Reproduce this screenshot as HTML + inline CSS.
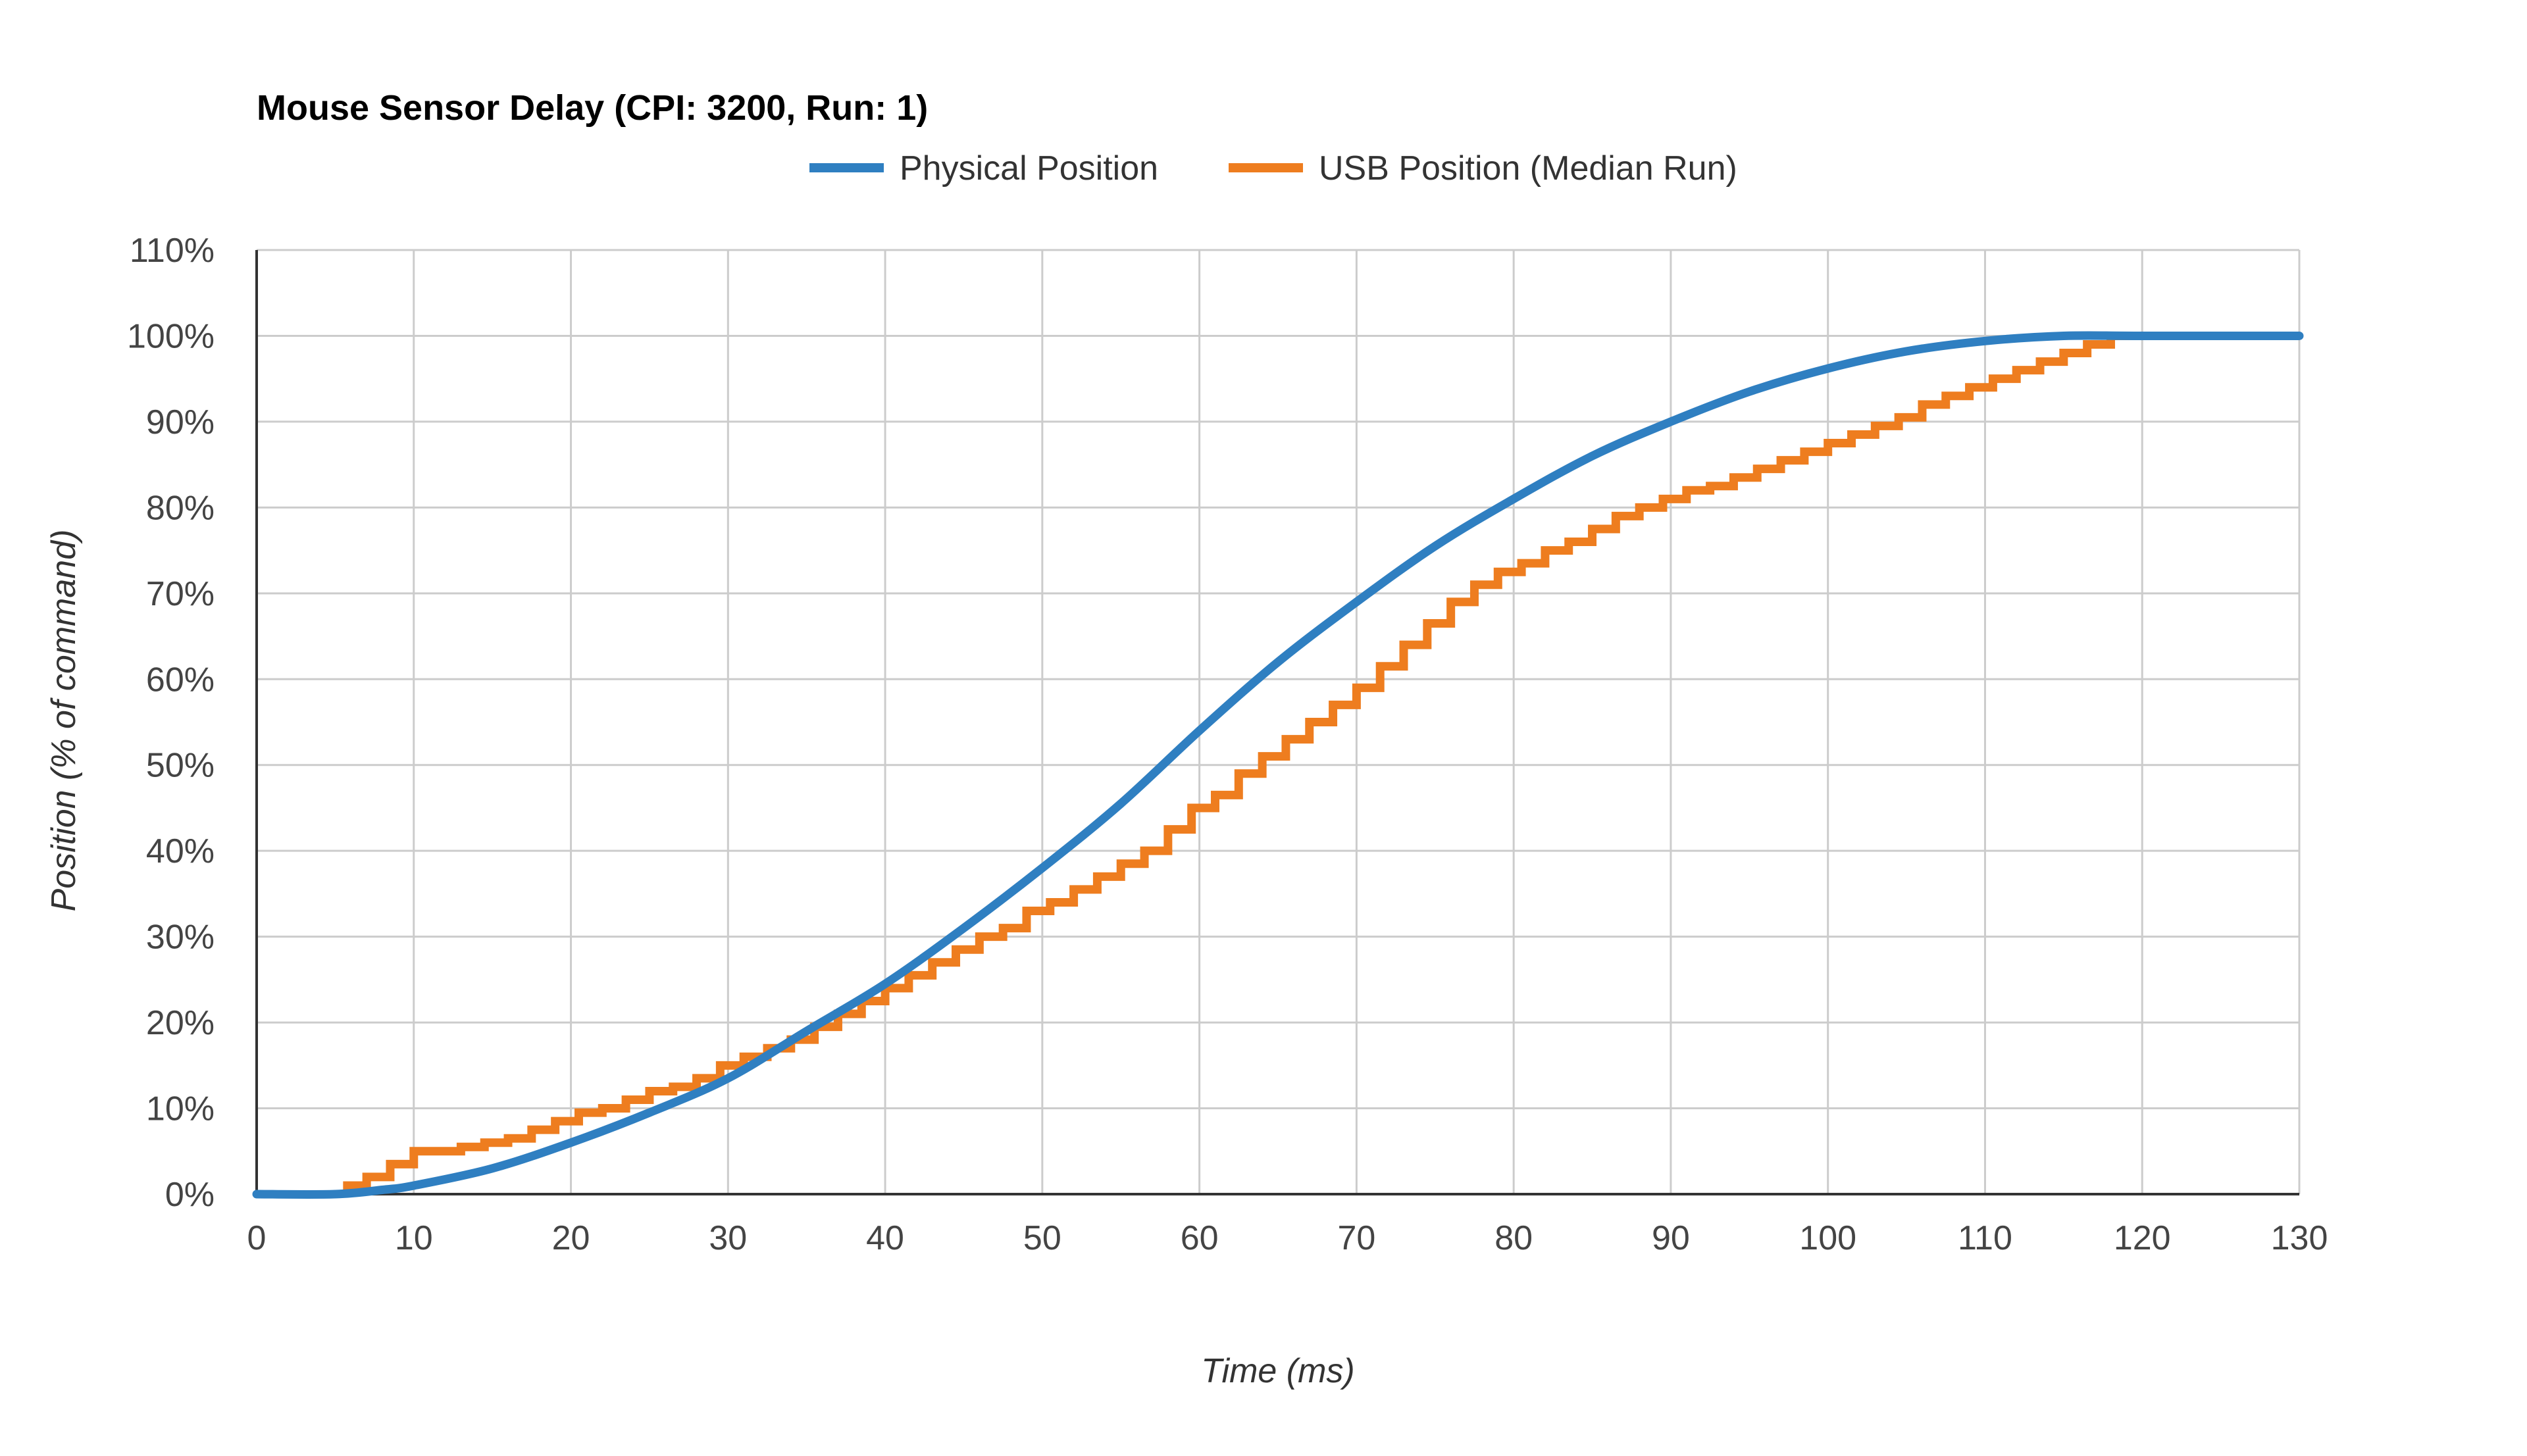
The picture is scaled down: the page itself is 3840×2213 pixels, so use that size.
<!DOCTYPE html>
<html><head><meta charset="utf-8">
<style>
html,body{margin:0;padding:0;background:#fff;}
svg{display:block;font-family:"Liberation Sans",Arial,sans-serif;}
</style></head>
<body>
<svg id="chart" width="3840" height="2213" viewBox="0 0 3840 2213" xmlns="http://www.w3.org/2000/svg">
  <rect x="0" y="0" width="3840" height="2213" fill="#fff"/>
  <text x="390" y="182" font-size="54" font-weight="bold" fill="#000">Mouse Sensor Delay (CPI: 3200, Run: 1)</text>
  <g>
    <g>
      <line x1="1230" y1="255" x2="1343" y2="255" stroke="#2f7fc1" stroke-width="14"/>
      <text x="1367" y="273" font-size="52" fill="#333">Physical Position</text>
    </g>
    <g>
      <line x1="1867" y1="255" x2="1980" y2="255" stroke="#ee7d1f" stroke-width="14"/>
      <text x="2004" y="273" font-size="52" fill="#333">USB Position (Median Run)</text>
    </g>
  </g>
  <g id="grid"></g>
  <g id="yticks"></g>
  <g id="xticks"></g>
  <g id="series"></g>
  <text transform="translate(114,1095) rotate(-90)" text-anchor="middle" font-size="52" font-style="italic" fill="#333">Position (% of command)</text>
  <text x="1942" y="2101" text-anchor="middle" font-size="52" font-style="italic" fill="#333">Time (ms)</text>
</svg>
<script>
const xTicks = [0,10,20,30,40,50,60,70,80,90,100,110,120,130];
const yTicks = [0,10,20,30,40,50,60,70,80,90,100,110];
const physT = [0,5,8,10,15,20,25,30,35,40,45,50,55,60,65,70,75,80,85,90,95,100,105,110,115,120,130];
const physV = [0,0,0.5,1,3,6,9.5,13.5,19,24.5,31,38,45.5,54,62,69,75.5,81,86,90,93.5,96.2,98.2,99.4,100,100,100];
const usbT = [5.5,7,8.5,10,11.5,13,14.5,16,17.5,19,20.5,22,23.5,25,26.5,28,29.5,31,32.5,34,35.5,37,38.5,40,41.5,43,44.5,46,47.5,49,50.5,52,53.5,55,56.5,58,59.5,61,62.5,64,65.5,67,68.5,70,71.5,73,74.5,76,77.5,79,80.5,82,83.5,85,86.5,88,89.5,91,92.5,94,95.5,97,98.5,100,101.5,103,104.5,106,107.5,109,110.5,112,113.5,115,116.5,118,130];
const usbV = [1,2,3.5,5,5,5.5,6,6.5,7.5,8.5,9.5,10,11,12,12.5,13.5,15,16,17,18,19.5,21,22.5,24,25.5,27,28.5,30,31,33,34,35.5,37,38.5,40,42.5,45,46.5,49,51,53,55,57,59,61.5,64,66.5,69,71,72.5,73.5,75,76,77.5,79,80,81,82,82.5,83.5,84.5,85.5,86.5,87.5,88.5,89.5,90.5,92,93,94,95,96,97,98,99,100,100];

const X0=390, X1=3494, Y0=1815, Y1=380;
const xs = t => X0 + (t-0)/(130-0)*(X1-X0);
const ys = v => Y0 - (v-0)/(110-0)*(Y0-Y1);
const NS="http://www.w3.org/2000/svg";
function mk(tag, attrs, parent){const e=document.createElementNS(NS,tag);for(const k in attrs)e.setAttribute(k,attrs[k]);parent.appendChild(e);return e;}
const grid=document.getElementById('grid'), yt=document.getElementById('yticks'), xt=document.getElementById('xticks'), ser=document.getElementById('series');

yTicks.forEach(v=>{
  if(v>0){const l=mk('line',{x1:X0,x2:X1,y1:ys(v),y2:ys(v),stroke:'#cccccc','stroke-width':3},grid);
  
  }
  const t=mk('text',{x:X0-64,y:ys(v)+18,'text-anchor':'end','font-size':52,fill:'#444'},yt);
  t.textContent=v+'%';
  
  
});
xTicks.forEach(v=>{
  if(v>0){const l=mk('line',{x1:xs(v),x2:xs(v),y1:Y1,y2:Y0,stroke:'#cccccc','stroke-width':3},grid);
  
  }
  const t=mk('text',{x:xs(v),y:Y0+84,'text-anchor':'middle','font-size':52,fill:'#444'},xt);
  t.textContent=v;
  
  
});
const ya=mk('line',{x1:X0,x2:X0,y1:Y1,y2:Y0,stroke:'#333','stroke-width':4},grid);


const xa=mk('line',{x1:X0,x2:X1,y1:Y0,y2:Y0,stroke:'#333','stroke-width':4},grid);



let d='';
usbT.forEach((t,i)=>{
  if(i===0) d+='M'+xs(t)+','+ys(usbV[i]);
  else d+=' H'+xs(t)+' V'+ys(usbV[i]);
});
const up=mk('path',{d:d,fill:'none',stroke:'#ee7d1f','stroke-width':13,'stroke-linejoin':'miter'},ser);



const pts=physT.map((t,i)=>[xs(t),ys(physV[i])]);
let p='M'+pts[0][0]+','+pts[0][1];
for(let i=0;i<pts.length-1;i++){
  const a=pts[i-1]||pts[i], b=pts[i], c=pts[i+1], e=pts[i+2]||c;
  const c1=[b[0]+(c[0]-a[0])/6,b[1]+(c[1]-a[1])/6], c2=[c[0]-(e[0]-b[0])/6,c[1]-(e[1]-b[1])/6];
  p+=' C'+c1[0]+','+c1[1]+' '+c2[0]+','+c2[1]+' '+c[0]+','+c[1];
}
const pp=mk('path',{d:p,fill:'none',stroke:'#2f7fc1','stroke-width':13,'stroke-linecap':'round'},ser);


</script>
</body></html>
